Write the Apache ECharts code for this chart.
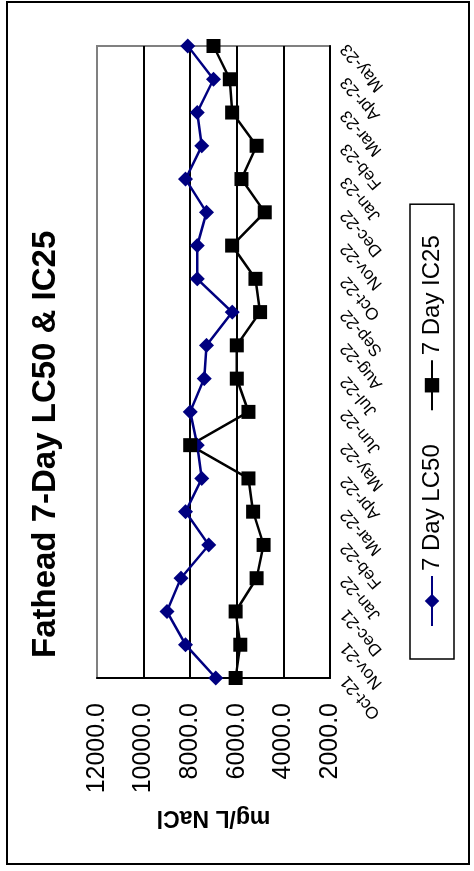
<!DOCTYPE html>
<html>
<head>
<meta charset="utf-8">
<script src="https://cdn.jsdelivr.net/npm/echarts@6/dist/echarts.min.js"></script>
<style>
html,body{margin:0;padding:0;background:#fff;width:474px;height:871px;overflow:hidden;}
#chart{position:absolute;left:0;top:0;width:871px;height:474px;transform-origin:0 0;transform:translateY(871px) rotate(-90deg);}
</style>
</head>
<body>
<div id="chart"></div>
<script>
const categories = ['Oct-21','Nov-21','Dec-21','Jan-22','Feb-22','Mar-22','Apr-22','May-22','Jun-22','Jul-22','Aug-22','Sep-22','Oct-22','Nov-22','Dec-22','Jan-23','Feb-23','Mar-23','Apr-23','May-23'];
const lc50 = [6900,8200,9000,8400,7200,8200,7500,7700,8000,7400,7300,6200,7700,7700,7300,8200,7500,7700,7000,8100];
const ic25 = [6050,5850,6050,5150,4850,5300,5500,8000,5500,6000,6000,5000,5200,6200,4800,5800,5150,6200,6300,7000];
const seriesNames = ['7 Day LC50','7 Day IC25'];
const titleText = 'Fathead 7-Day LC50 & IC25';
const yAxisName = 'mg/L NaCl';

const FONT = '"Liberation Sans", Arial, sans-serif';
const chart = echarts.init(document.getElementById('chart'), null, {renderer:'canvas'});
chart.setOption({
  animation:false,
  backgroundColor:'#fff',
  textStyle:{fontFamily:FONT},
  graphic:[{type:'rect',shape:{x:7,y:7,width:862,height:462},style:{fill:'none',stroke:'#000',lineWidth:2},z:-1}],
  title:{text:titleText,left:213,top:29,padding:0,textStyle:{fontFamily:FONT,fontSize:33,fontWeight:'bold',color:'#000'}},
  legend:{
    left:212,top:410,padding:[10,31,10,32],itemGap:33,itemWidth:50,itemHeight:18,
    borderColor:'#000',borderWidth:1.5,
    textStyle:{fontFamily:FONT,fontSize:24,color:'#000'},
    data:seriesNames
  },
  grid:{left:193,right:46,top:97,bottom:144,show:true,borderColor:'#808080',borderWidth:2,backgroundColor:'#fff'},
  xAxis:{
    type:'category',data:categories,boundaryGap:false,
    axisLine:{lineStyle:{color:'#000',width:2}},
    axisTick:{show:false},
    axisLabel:{rotate:40,fontSize:17,color:'#000',margin:14,interval:0,fontFamily:FONT},
    splitLine:{show:false}
  },
  yAxis:{
    type:'value',min:2000,max:12000,interval:2000,
    name:yAxisName,nameLocation:'middle',nameGap:128,
    nameTextStyle:{fontFamily:FONT,fontSize:23,fontWeight:'bold',color:'#000'},
    axisLine:{show:true,lineStyle:{color:'#000',width:2}},
    axisTick:{show:false},
    axisLabel:{fontSize:25,color:'#000',margin:25,fontFamily:FONT,formatter:v=>v.toFixed(1)},
    splitLine:{show:true,showMaxLine:false,lineStyle:{color:'#000',width:2}}
  },
  series:[
    {name:seriesNames[0],type:'line',data:lc50,symbol:'diamond',symbolSize:15,
     lineStyle:{color:'#000080',width:2.5},itemStyle:{color:'#000080'}},
    {name:seriesNames[1],type:'line',data:ic25,symbol:'rect',symbolSize:14,
     lineStyle:{color:'#000',width:2.5},itemStyle:{color:'#000'}}
  ]
});
</script>
</body>
</html>
